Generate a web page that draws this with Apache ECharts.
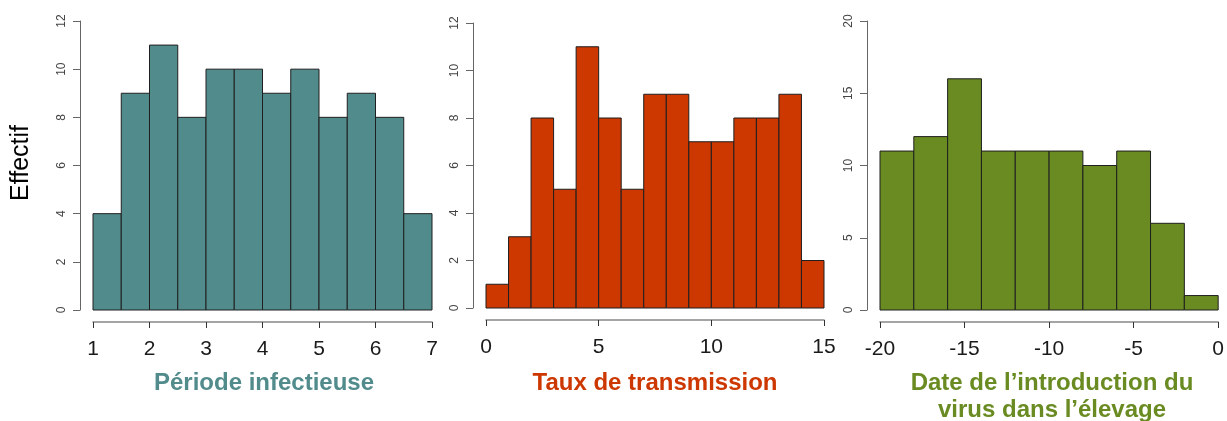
<!DOCTYPE html>
<html><head><meta charset="utf-8">
<script src="https://cdn.jsdelivr.net/npm/echarts@6/dist/echarts.min.js"></script>
<style>html,body{margin:0;padding:0;background:#fff}#c{width:1227px;height:421px}</style>
</head><body><div id="c"></div>
<script>
// Panel 1: Période infectieuse
const periodEdges = [1, 1.5, 2, 2.5, 3, 3.5, 4, 4.5, 5, 5.5, 6, 6.5, 7];
const periodCounts = [4, 9, 11, 8, 10, 10, 9, 10, 8, 9, 8, 4];
const periodTicks = [1, 2, 3, 4, 5, 6, 7];
// Panel 2: Taux de transmission
const transEdges = [0, 1, 2, 3, 4, 5, 6, 7, 8, 9, 10, 11, 12, 13, 14, 15];
const transCounts = [1, 3, 8, 5, 11, 8, 5, 9, 9, 7, 7, 8, 8, 9, 2];
const transTicks = [0, 5, 10, 15];
// Panel 3: Date de l'introduction du virus
const dateEdges = [-20, -18, -16, -14, -12, -10, -8, -6, -4, -2, 0];
const dateCounts = [11, 12, 16, 11, 11, 11, 10, 11, 6, 1];
const dateTicks = [-20, -15, -10, -5, 0];

const yTicks12 = [0, 2, 4, 6, 8, 10, 12];
const yTicks20 = [0, 5, 10, 15, 20];

const titles = ['Période infectieuse', 'Taux de transmission', 'Date de l\u2019introduction du\nvirus dans l\u2019élevage'];
const colors = ['#528B8B', '#CD3700', '#698B22'];

function binsData(edges, counts) {
  return counts.map((c, i) => [edges[i], edges[i + 1], c]);
}

const panels = [
  { edges: periodEdges, counts: periodCounts, ticks: periodTicks, yTicks: yTicks12, grid: { left: 93, top: 21, width: 339, height: 289 } },
  { edges: transEdges, counts: transCounts, ticks: transTicks, yTicks: yTicks12, grid: { left: 486, top: 23, width: 338, height: 285 } },
  { edges: dateEdges, counts: dateCounts, ticks: dateTicks, yTicks: yTicks20, grid: { left: 880, top: 21, width: 341, height: 289 } }
];

const font = 'Liberation Sans, Arial, sans-serif';
const option = {
  animation: false,
  backgroundColor: '#ffffff',
  grid: panels.map(p => p.grid),
  xAxis: panels.map((p, i) => ({
    type: 'value', gridIndex: i, position: 'bottom',
    min: p.ticks[0], max: p.ticks[p.ticks.length - 1],
    interval: p.ticks[1] - p.ticks[0],
    offset: 12,
    axisLine: { show: true, onZero: false, lineStyle: { color: '#888', width: 1.5 } },
    axisTick: { show: true, length: 6, lineStyle: { color: '#333', width: 1 } },
    axisLabel: { show: true, color: '#1a1a1a', fontSize: 21, fontFamily: font, margin: 17 },
    splitLine: { show: false }
  })),
  yAxis: panels.map((p, i) => ({
    type: 'value', gridIndex: i, position: 'left',
    min: 0, max: p.yTicks[p.yTicks.length - 1],
    interval: p.yTicks[1] - p.yTicks[0],
    offset: 13,
    axisLine: { show: true, onZero: false, lineStyle: { color: '#666', width: 1 } },
    axisTick: { show: true, length: 7, lineStyle: { color: '#666', width: 1 } },
    axisLabel: { show: true, rotate: 90, color: '#444', fontSize: 12, fontFamily: font, margin: 12 },
    splitLine: { show: false }
  })),
  series: panels.map((p, i) => ({
    type: 'custom', xAxisIndex: i, yAxisIndex: i,
    data: binsData(p.edges, p.counts),
    renderItem: function (params, api) {
      const a = api.coord([api.value(0), api.value(2)]);
      const b = api.coord([api.value(1), 0]);
      return {
        type: 'rect',
        shape: { x: a[0], y: a[1], width: b[0] - a[0], height: b[1] - a[1] },
        style: { fill: colors[i], stroke: '#1f1f1f', lineWidth: 1 }
      };
    }
  })),
  graphic: [
    { type: 'text', x: 21, y: 163, rotation: Math.PI / 2,
      style: { text: 'Effectif', font: '25px ' + font, fill: '#000', textAlign: 'center', textVerticalAlign: 'middle' } },
    { type: 'text', x: 264, y: 383,
      style: { text: titles[0], font: 'bold 24px ' + font, fill: colors[0], textAlign: 'center', textVerticalAlign: 'middle' } },
    { type: 'text', x: 655, y: 383,
      style: { text: titles[1], font: 'bold 24px ' + font, fill: colors[1], textAlign: 'center', textVerticalAlign: 'middle' } },
    { type: 'text', x: 1052, y: 397,
      style: { text: titles[2], font: 'bold 24px ' + font, fill: colors[2], textAlign: 'center', textVerticalAlign: 'middle', lineHeight: 27 } }
  ]
};
echarts.init(document.getElementById('c')).setOption(option);
</script></body></html>
